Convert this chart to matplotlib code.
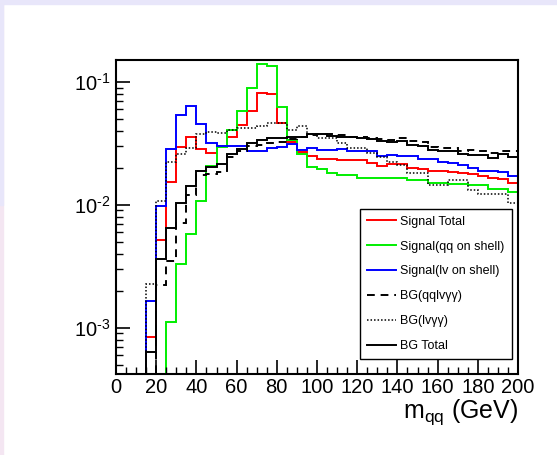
import numpy as np
import matplotlib
matplotlib.use("Agg")
import matplotlib.pyplot as plt
from matplotlib.patches import Rectangle
from matplotlib.ticker import LogLocator, MultipleLocator, NullFormatter, FixedLocator

# ---- histogram contents (normalised), 5 GeV bins from 0 to 200 ----
bin_edges = np.linspace(0, 200, 41)

signal_total = [0, 0, 0, 8.4e-4, 5.2e-3, 0.0153, 0.0294, 0.036, 0.0287, 0.0263,
                0.030, 0.036, 0.0447, 0.058, 0.081, 0.0794, 0.046, 0.0322, 0.0271, 0.0250,
                0.0236, 0.0236, 0.0232, 0.0232, 0.0232, 0.0218, 0.0208, 0.0215, 0.0215, 0.0199,
                0.0195, 0.0189, 0.0189, 0.0185, 0.0182, 0.0178, 0.0172, 0.0165, 0.0163, 0.0150]

signal_qq = [0, 0, 0, 0, 0, 1.12e-3, 3.33e-3, 5.74e-3, 0.0108, 0.0207,
             0.0298, 0.0407, 0.0585, 0.0899, 0.139, 0.136, 0.063, 0.034, 0.026, 0.0205,
             0.0196, 0.0183, 0.0176, 0.0176, 0.0165, 0.0164, 0.0164, 0.0164, 0.0164, 0.0160,
             0.0160, 0.0151, 0.0151, 0.0149, 0.0149, 0.0145, 0.0145, 0.0134, 0.0134, 0.0128]

signal_lv = [0, 0, 0, 1.64e-3, 9.7e-3, 0.0285, 0.054, 0.064, 0.0456, 0.0318,
             0.0303, 0.0304, 0.0304, 0.0276, 0.0276, 0.0289, 0.0298, 0.0312, 0.0280, 0.0289,
             0.0280, 0.0280, 0.0286, 0.0275, 0.0275, 0.0272, 0.0250, 0.0255, 0.0248, 0.0248,
             0.0236, 0.0236, 0.0225, 0.0220, 0.0212, 0.0199, 0.0187, 0.0188, 0.0185, 0.0172]

bg_qqlvaa = [0, 0, 0, 0, 2.21e-3, 3.52e-3, 7.18e-3, 0.0121, 0.0176, 0.0179,
             0.0186, 0.0245, 0.0275, 0.0302, 0.0308, 0.0319, 0.0325, 0.0344, 0.0357, 0.0371,
             0.0378, 0.0378, 0.0371, 0.0359, 0.0359, 0.0348, 0.0342, 0.0338, 0.0348, 0.0328,
             0.0322, 0.0298, 0.0289, 0.0289, 0.0272, 0.0280, 0.0272, 0.0263, 0.0276, 0.0272]

bg_lvaa = [0, 0, 0, 2.28e-3, 0.0108, 0.0225, 0.026, 0.0288, 0.0378, 0.0393,
           0.0385, 0.0407, 0.0423, 0.0425, 0.0439, 0.0462, 0.0464, 0.0407, 0.0435, 0.0378,
           0.0347, 0.0348, 0.0318, 0.0292, 0.0292, 0.0265, 0.0247, 0.0225, 0.0212, 0.0183,
           0.0183, 0.0145, 0.0145, 0.0160, 0.0160, 0.0133, 0.0122, 0.0122, 0.0122, 0.0104]

bg_total = [0, 0, 0, 6.4e-4, 3.64e-3, 6.53e-3, 0.0103, 0.01426, 0.0187, 0.0205,
            0.0215, 0.0260, 0.0285, 0.0317, 0.0338, 0.0348, 0.0348, 0.0355, 0.0359, 0.0378,
            0.0376, 0.0364, 0.0359, 0.0355, 0.0348, 0.0342, 0.0333, 0.0327, 0.0334, 0.0305,
            0.0304, 0.0277, 0.0275, 0.0272, 0.0260, 0.0255, 0.0253, 0.0241, 0.0260, 0.0244]

series = [
    ("Signal Total", signal_total, "#ff0000", "-", 1.4),
    ("Signal(qq on shell)", signal_qq, "#00ee00", "-", 1.4),
    ("Signal(lv on shell)", signal_lv, "#0000ff", "-", 1.4),
    ("BG(qqlv\u03b3\u03b3)", bg_qqlvaa, "black", (0, (4, 3)), 1.4),
    ("BG(lv\u03b3\u03b3)", bg_lvaa, "black", (0, (1, 1.3)), 1.1),
    ("BG Total", bg_total, "black", "-", 1.4),
]

y_ticks = [1e-3, 1e-2, 1e-1]
y_tick_labels = [r"$10^{\text{-3}}$", r"$10^{\text{-2}}$", r"$10^{\text{-1}}$"]
y_min, y_max = 4.2e-4, 0.151

plt.rcParams["font.family"] = ["Liberation Sans", "DejaVu Sans"]
plt.rcParams["mathtext.fontset"] = "custom"
plt.rcParams["mathtext.rm"] = "Liberation Sans"
plt.rcParams["mathtext.it"] = "Liberation Sans"

fig = plt.figure(figsize=(5.57, 4.55), dpi=100)
W, H = 557, 455

# window border strips
fig.patches.append(Rectangle((0, 1 - 4 / H), 1, 4 / H, transform=fig.transFigure,
                             color="#e8e6fa", zorder=0))
fig.patches.append(Rectangle((0, 0), 3 / W, 1 - 4 / H, transform=fig.transFigure,
                             color="#f4e6f2", zorder=0))
fig.patches.append(Rectangle((0, 0.55), 3 / W, 0.45 - 4 / H, transform=fig.transFigure,
                             color="#e8e6fa", zorder=0))

ax = fig.add_axes([116 / W, 1 - 374 / H, (518 - 116) / W, (374 - 60) / H])

for label, vals, color, ls, lw in series:
    v = np.clip(np.asarray(vals, dtype=float), y_min, None)
    ax.stairs(v, bin_edges, baseline=None, color=color, linestyle=ls, linewidth=lw,
              label=label)

ax.set_yscale("log")
ax.set_xlim(0, 200)
ax.set_ylim(y_min, y_max)

ax.xaxis.set_major_locator(MultipleLocator(20))
ax.xaxis.set_minor_locator(MultipleLocator(5))
ax.yaxis.set_major_locator(FixedLocator(y_ticks))
ax.yaxis.set_minor_locator(LogLocator(base=10, subs=np.arange(2, 10), numticks=20))
ax.yaxis.set_minor_formatter(NullFormatter())
ax.set_yticklabels(y_tick_labels)

ax.tick_params(axis="both", which="major", direction="in", length=10, width=1.2,
               labelsize=14.5, top=False, right=False, colors="black")
ax.tick_params(axis="both", which="minor", direction="in", length=5, width=1.0,
               top=False, right=False)
ax.tick_params(axis="x", pad=3)
ax.tick_params(axis="y", pad=4)
for s in ax.spines.values():
    s.set_linewidth(1.5)

ax.set_xlabel(r"m$_{\mathrm{qq}}$ (GeV)", fontsize=18, loc="right", labelpad=0)

leg = ax.legend(loc="lower left", bbox_to_anchor=(0.607, 0.048, 0.378, 0.474),
                mode="expand", fontsize=9, frameon=True, fancybox=False,
                edgecolor="black", framealpha=1, handlelength=2.3, handletextpad=0.35,
                labelspacing=1.03, borderpad=0.55, borderaxespad=0)
leg.get_frame().set_linewidth(1.0)

fig.savefig("out.png", dpi=100)
